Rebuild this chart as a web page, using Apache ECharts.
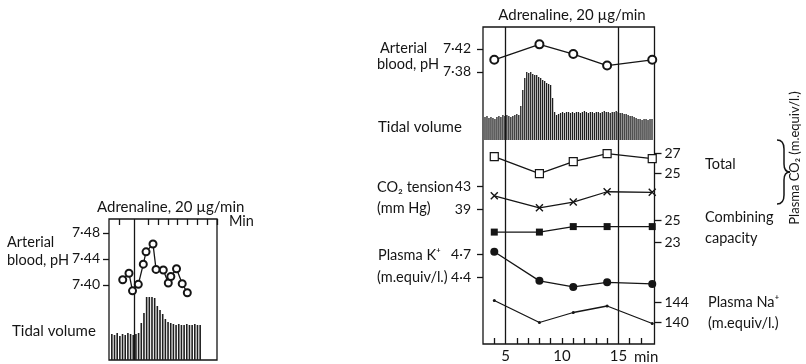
<!DOCTYPE html>
<html>
<head>
<meta charset="utf-8">
<script src="https://cdn.jsdelivr.net/npm/echarts@6/dist/echarts.min.js"></script>
<style>
  html, body { margin: 0; background: #fff; }
  #chart { width: 806px; height: 364px; }
</style>
</head>
<body>
<div id="chart"></div>
<script>
// ---- data ----
// right panel: samples at these minutes
const rightMinutes = [4, 8, 11, 14, 18];
const phRight = [7.401, 7.428, 7.411, 7.391, 7.401];
const co2Total = [26.7, 25.0, 26.2, 27.0, 26.5];
const co2Tension = [41.3, 39.2, 40.2, 42.0, 41.9];
const combining = [23.9, 23.9, 24.4, 24.4, 24.4];
const plasmaK = [4.73, 4.35, 4.27, 4.33, 4.31];
const plasmaNa = [144.3, 139.9, 141.9, 143.2, 139.7];

// right panel tidal volume trace (one bar per breath, arbitrary units)
const tidalRight = [
  23, 24, 22, 23, 22, 21, 23, 24, 23, 25, 24, 25, 24, 23, 24, 25, 26, 25,
  34, 50, 62, 68, 67, 68, 66, 65, 65, 63, 62, 60, 59, 57, 56, 55, 42, 28, 25, 26,
  27, 28, 27, 28, 28, 27, 28, 27, 28, 28, 27, 28, 29, 28, 27, 28, 28, 27, 28, 28, 27, 28, 29, 28, 28, 27, 28,
  28, 29, 28, 27, 27, 26,
  26, 25, 24, 24, 23, 22, 21,
  21, 20, 21, 21, 20, 21, 21
];

// left panel: pH samples
const leftMinutes = [1.40, 2.04, 2.40, 2.99, 3.50, 3.78, 4.49, 4.80, 5.54, 6.05, 6.31, 6.89, 7.47, 7.99];
const phLeft = [7.408, 7.418, 7.391, 7.401, 7.432, 7.451, 7.463, 7.424, 7.423, 7.403, 7.413, 7.425, 7.402, 7.388];

// left panel tidal volume trace
const tidalLeft = [
  26, 25, 27, 24, 26, 25, 27, 26, 25, 26, 27,
  37, 47, 63, 63, 63, 62, 54, 50, 46, 41, 38, 37, 36,
  35, 36, 35, 35, 36, 35, 35, 36, 35, 35
];

// tick values
const phRightTicks = [7.38, 7.42];
const co2TotalTicks = [25, 27];
const co2TensionTicks = [39, 43];
const combiningTicks = [23, 25];
const plasmaKTicks = [4.4, 4.7];
const plasmaNaTicks = [140, 144];
const minuteLabels = [5, 10, 15];
const minuteTicks = [4, 6, 7, 8, 9, 10, 11, 12, 13, 14, 16, 17];
const phLeftTicks = [7.40, 7.44, 7.48];
const leftMinuteTicks = [1, 4, 5, 6, 7, 8, 9, 10, 11];

const FONT = 'Lato, "Noto Sans", sans-serif';
const FS = 14.5;
const TICK_FS = 14;
const INK = '#151515';

function dot(v, d) {
  return v.toFixed(d).replace('.', '\u00b7');
}

function sideAxis(gridIndex, position, min, max, ticks, digits, margin) {
  return {
    type: 'value', gridIndex: gridIndex, position: position, min: min, max: max,
    axisLine: { show: false },
    splitLine: { show: false },
    axisTick: { customValues: ticks, length: position === 'left' ? 6 : 7, lineStyle: { color: INK, width: 1.3 } },
    axisLabel: { customValues: ticks, formatter: v => dot(v, digits), color: INK, fontSize: TICK_FS, fontFamily: FONT, margin: margin }
  };
}

function hiddenX(gridIndex) {
  return { type: 'value', gridIndex: gridIndex, min: 3, max: 18.2, show: false };
}

function pairs(xs, ys) {
  return xs.map((x, i) => [x, ys[i]]);
}

function lineSeries(xi, yi, xs, ys, symbol, size, itemStyle) {
  return {
    type: 'line', xAxisIndex: xi, yAxisIndex: yi,
    data: pairs(xs, ys),
    symbol: symbol, symbolSize: size,
    lineStyle: { color: INK, width: 1.3 },
    itemStyle: itemStyle,
    z: 5
  };
}

function text(str, x, y, extra) {
  return {
    type: 'text', x: x, y: y,
    style: Object.assign({ text: str, fill: INK, font: FS + 'px ' + FONT, verticalAlign: 'middle' }, extra || {})
  };
}

// brace pieces for the plasma CO2 bracket
function curve(x1, y1, cx, cy, x2, y2) {
  return {
    type: 'bezierCurve',
    shape: { x1: x1, y1: y1, cpx1: cx, cpy1: cy, x2: x2, y2: y2 },
    style: { stroke: INK, lineWidth: 1.5, fill: null }
  };
}
function seg(x1, y1, x2, y2) {
  return { type: 'line', shape: { x1: x1, y1: y1, x2: x2, y2: y2 }, style: { stroke: INK, lineWidth: 1.5 } };
}

const chart = echarts.init(document.getElementById('chart'));

const rotatedCaption = text('Plasma CO\u2082 (m.equiv/l.)', 795, 158, { align: 'center', font: '13px ' + FONT });
rotatedCaption.rotation = Math.PI / 2;

const option = {
  animation: false,
  backgroundColor: '#fff',
  grid: [
    { left: 483, top: 27, width: 171.5, height: 318, show: true, borderColor: INK, borderWidth: 1.3 },
    { left: 483, top: 27, width: 171.5, height: 318 },
    { left: 483, top: 27, width: 171.5, height: 318 },
    { left: 484, top: 60, width: 169, height: 80 },
    { left: 109, top: 219, width: 108, height: 141, show: true, borderColor: INK, borderWidth: 1.3 },
    { left: 110.5, top: 290, width: 91, height: 70 }
  ],
  xAxis: [
    {
      type: 'value', gridIndex: 0, min: 3, max: 18.2, position: 'bottom',
      axisLine: { show: false },
      splitLine: { show: false },
      axisTick: { customValues: minuteTicks, inside: true, length: 6, lineStyle: { color: INK, width: 1.3 } },
      axisLabel: { customValues: minuteLabels, color: INK, fontSize: 15, fontFamily: FONT, margin: 5 }
    },
    hiddenX(1),
    hiddenX(2),
    { type: 'category', gridIndex: 3, data: tidalRight.map((_, i) => i), show: false },
    {
      type: 'value', gridIndex: 4, min: 0, max: 11.02, position: 'top',
      axisLine: { show: false },
      splitLine: { show: false },
      axisTick: { customValues: leftMinuteTicks, inside: true, length: 6, lineStyle: { color: INK, width: 1.3 } },
      axisLabel: { show: false }
    },
    { type: 'category', gridIndex: 5, data: tidalLeft.map((_, i) => i), show: false }
  ],
  yAxis: [
    sideAxis(0, 'left', 6.90522, 7.45826, phRightTicks, 2, 12),
    sideAxis(0, 'right', 7.9, 39.7, co2TotalTicks, 0, 10),
    sideAxis(1, 'left', 15.348, 70.652, co2TensionTicks, 0, 12),
    sideAxis(1, 'right', 13.636, 42.545, combiningTicks, 0, 10),
    sideAxis(2, 'left', 3.513, 7.661, plasmaKTicks, 1, 12),
    sideAxis(2, 'right', 135.4, 199, plasmaNaTicks, 0, 10),
    { type: 'value', gridIndex: 3, min: 0, max: 80, show: false },
    sideAxis(4, 'left', 7.2846, 7.5015, phLeftTicks, 2, 9),
    { type: 'value', gridIndex: 5, min: 0, max: 70, show: false }
  ],
  series: [
    Object.assign(lineSeries(0, 0, rightMinutes, phRight, 'emptyCircle', 8,
      { color: INK, borderColor: INK, borderWidth: 1.2 }), {
      markLine: {
        silent: true, symbol: ['none', 'none'], label: { show: false },
        lineStyle: { color: INK, type: 'solid', width: 1.3 },
        data: [{ xAxis: 5 }, { xAxis: 15 }]
      }
    }),
    lineSeries(0, 1, rightMinutes, co2Total, 'rect', 8,
      { color: '#fff', borderColor: INK, borderWidth: 1.2 }),
    lineSeries(1, 2, rightMinutes, co2Tension, 'path://M0,0L10,10M10,0L0,10', 7,
      { color: 'none', borderColor: INK, borderWidth: 1.4 }),
    lineSeries(1, 3, rightMinutes, combining, 'rect', 7, { color: INK }),
    lineSeries(2, 4, rightMinutes, plasmaK, 'circle', 8, { color: INK }),
    lineSeries(2, 5, rightMinutes, plasmaNa, 'circle', 3, { color: INK }),
    {
      type: 'bar', xAxisIndex: 3, yAxisIndex: 6, data: tidalRight,
      barWidth: 1.3, itemStyle: { color: '#1e1e1e' }
    },
    Object.assign(lineSeries(4, 7, leftMinutes, phLeft, 'emptyCircle', 7,
      { color: INK, borderColor: INK, borderWidth: 1.2 }), {
      markLine: {
        silent: true, symbol: ['none', 'none'], label: { show: false },
        lineStyle: { color: INK, type: 'solid', width: 1.3 },
        data: [{ xAxis: 2.55 }]
      }
    }),
    {
      type: 'bar', xAxisIndex: 5, yAxisIndex: 8, data: tidalLeft,
      barWidth: 1.6, itemStyle: { color: '#1e1e1e' }
    }
  ],
  graphic: [
    // right panel
    text('Adrenaline, 20 \u00b5g/min', 572, 15, { align: 'center', font: '15px ' + FONT }),
    text('Arterial', 380, 48),
    text('blood, pH', 377, 64),
    text('Tidal volume', 378, 127, { font: '15px ' + FONT }),
    text('CO\u2082 tension', 377, 187),
    text('(mm Hg)', 377, 208),
    text('Plasma K\u207a', 378, 255),
    text('(m.equiv/l.)', 377, 277),
    text('min', 634, 357, { font: '15px ' + FONT }),
    text('Total', 705, 164),
    text('Combining', 705, 217),
    text('capacity', 705, 238),
    text('Plasma Na\u207a', 708, 302),
    text('(m.equiv/l.)', 708, 323),
    rotatedCaption,
    curve(777, 140, 784, 140, 784, 149),
    seg(784, 149, 784, 164),
    curve(784, 164, 784, 172, 790, 172),
    curve(790, 172, 784, 172, 784, 180),
    seg(784, 180, 784, 195),
    curve(784, 195, 784, 204, 777, 204),
    // left panel
    text('Adrenaline, 20 \u00b5g/min', 97, 207, { font: '15px ' + FONT }),
    text('Min', 229, 221),
    text('Arterial', 7, 242),
    text('blood, pH', 7, 260),
    text('Tidal volume', 12, 331, { font: '15px ' + FONT })
  ]
};

chart.setOption(option);
</script>
</body>
</html>
